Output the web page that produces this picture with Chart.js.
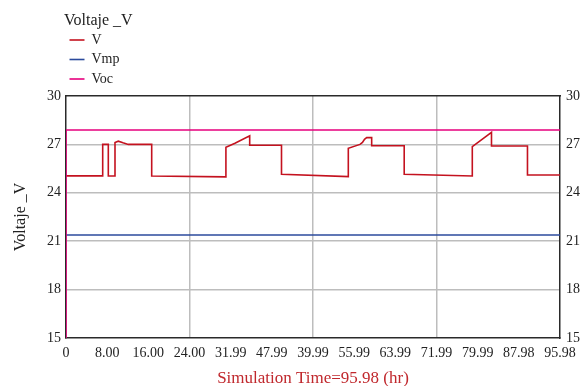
<!DOCTYPE html>
<html>
<head>
<meta charset="utf-8">
<script src="https://cdn.jsdelivr.net/npm/chart.js@4/dist/chart.umd.min.js"></script>
<style>
  html, body { margin: 0; padding: 0; background: #ffffff; }
  #wrap { width: 588px; height: 386px; }
</style>
</head>
<body>
<div id="wrap"><canvas id="chart" width="588" height="386"></canvas></div>
<script>
// Simulation output: PV module voltage over 96 hours
const timeHours = [0, 7.13, 7.13, 8.22, 8.22, 9.52, 9.52, 10.16, 11.07, 12.10, 16.65, 16.65,
  31.07, 31.07, 32.83, 35.69, 35.69, 41.87, 41.87, 54.85, 54.85, 57.12, 57.6, 58.0, 58.42,
  59.39, 59.39, 65.71, 65.71, 78.94, 78.94, 82.67, 82.67, 89.66, 89.66, 95.98];
const voltV = [25.05, 25.05, 27.0, 27.0, 25.04, 25.04, 27.12, 27.2, 27.1, 27.0, 27.0, 25.04,
  24.99, 26.82, 27.07, 27.54, 26.95, 26.95, 25.15, 25.0, 26.76, 27.0, 27.12, 27.32, 27.42,
  27.42, 26.92, 26.92, 25.15, 25.04, 26.86, 27.75, 26.9, 26.9, 25.1, 25.1];

const vmpTime = [0, 95.98];
const vmpValues = [21.38, 21.38];

const vocTime = [0, 0, 95.98];
const vocValues = [0, 27.89, 27.89];

const xTickLabels = ['0', '8.00', '16.00', '24.00', '31.99', '47.99', '39.99',
  '55.99', '63.99', '71.99', '79.99', '87.98', '95.98'];
const yTickValues = [15, 18, 21, 24, 27, 30];

const seriesNames = ['V', 'Vmp', 'Voc'];
const seriesColors = ['#c4121f', '#2b4a9c', '#e6007e'];

const X_MAX = 95.98;
const FONT = "'Liberation Serif', 'Times New Roman', serif";
const GRID = '#bdbdbd';
const AXIS = '#2a2a2a';

function pairs(xs, ys) {
  return xs.map((x, i) => ({ x: x, y: ys[i] }));
}

// Places the legend block above the plot, stacked vertically
const legendPlacement = {
  id: 'legendPlacement',
  afterLayout(chart) {
    const lg = chart.legend;
    if (!lg) return;
    lg.left = 64; lg.top = 13;
    lg.width = 200; lg.height = 82;
    lg.right = lg.left + lg.width;
    lg.bottom = lg.top + lg.height;
  }
};

const lineDefaults = { borderWidth: 1.6, pointRadius: 0, tension: 0, fill: false, pointStyle: 'line' };

new Chart(document.getElementById('chart'), {
  type: 'line',
  data: {
    datasets: [
      Object.assign({ label: seriesNames[0], data: pairs(timeHours, voltV),
        borderColor: seriesColors[0], backgroundColor: seriesColors[0], order: 2 }, lineDefaults),
      Object.assign({ label: seriesNames[1], data: pairs(vmpTime, vmpValues),
        borderColor: seriesColors[1], backgroundColor: seriesColors[1], order: 1 }, lineDefaults),
      Object.assign({ label: seriesNames[2], data: pairs(vocTime, vocValues),
        borderColor: seriesColors[2], backgroundColor: seriesColors[2], order: 0 }, lineDefaults)
    ]
  },
  options: {
    responsive: false,
    animation: false,
    devicePixelRatio: 1,
    layout: { padding: { top: 96, left: 0, right: 0, bottom: 0 } },
    plugins: {
      tooltip: { enabled: false },
      legend: {
        position: 'chartArea',
        align: 'start',
        title: {
          display: true,
          text: 'Voltaje _V',
          position: 'start',
          color: '#222',
          padding: { top: 0, bottom: -1.5 },
          font: { family: FONT, size: 16, lineHeight: 1 }
        },
        labels: {
          usePointStyle: true,
          pointStyle: 'line',
          pointStyleWidth: 15,
          padding: 5.5,
          color: '#222',
          font: { family: FONT, size: 14 },
          sort: (a, b) => a.datasetIndex - b.datasetIndex
        }
      }
    },
    scales: {
      x: {
        type: 'linear',
        position: 'bottom',
        min: 0,
        max: X_MAX,
        afterBuildTicks(scale) {
          const n = xTickLabels.length - 1;
          scale.ticks = xTickLabels.map((_, i) => ({ value: i * X_MAX / n }));
        },
        afterFit(scale) { scale.height = 48; },
        ticks: {
          autoSkip: false,
          maxRotation: 0,
          padding: 7,
          color: '#222',
          font: { family: FONT, size: 14 },
          callback: (v, i) => xTickLabels[i]
        },
        grid: {
          drawTicks: false,
          lineWidth: 1.5,
          color: (c) => (c.index % 3 === 0 && c.index > 0 && c.index < xTickLabels.length - 1) ? GRID : 'rgba(0,0,0,0)'
        },
        border: { display: true, color: AXIS, width: 1.5 },
        title: {
          display: true,
          text: 'Simulation Time=95.98 (hr)',
          color: '#c0282d',
          padding: { top: 0, bottom: -2.5 },
          font: { family: FONT, size: 17 }
        }
      },
      xTop: {
        type: 'linear',
        position: 'top',
        min: 0,
        max: X_MAX,
        ticks: { display: false },
        grid: { display: false, drawTicks: false },
        border: { display: true, color: AXIS, width: 1.5 }
      },
      y: {
        type: 'linear',
        position: 'left',
        min: 15,
        max: 30,
        afterBuildTicks(scale) { scale.ticks = yTickValues.map(v => ({ value: v })); },
        afterFit(scale) { scale.width = 66; },
        ticks: { padding: 5, color: '#222', font: { family: FONT, size: 14 } },
        grid: {
          drawTicks: false,
          lineWidth: 1.5,
          color: (c) => (c.tick && c.tick.value > 15 && c.tick.value < 30) ? GRID : 'rgba(0,0,0,0)'
        },
        border: { display: true, color: AXIS, width: 1.5 },
        title: {
          display: true,
          text: 'Voltaje _V',
          color: '#222',
          padding: { top: 11, bottom: 0 },
          font: { family: FONT, size: 16 }
        }
      },
      yRight: {
        type: 'linear',
        position: 'right',
        min: 15,
        max: 30,
        afterBuildTicks(scale) { scale.ticks = yTickValues.map(v => ({ value: v })); },
        afterFit(scale) { scale.width = 28; },
        ticks: { padding: 6, color: '#222', font: { family: FONT, size: 14 } },
        grid: { display: false, drawTicks: false },
        border: { display: true, color: AXIS, width: 1.5 }
      }
    }
  },
  plugins: [legendPlacement]
});
</script>
</body>
</html>
